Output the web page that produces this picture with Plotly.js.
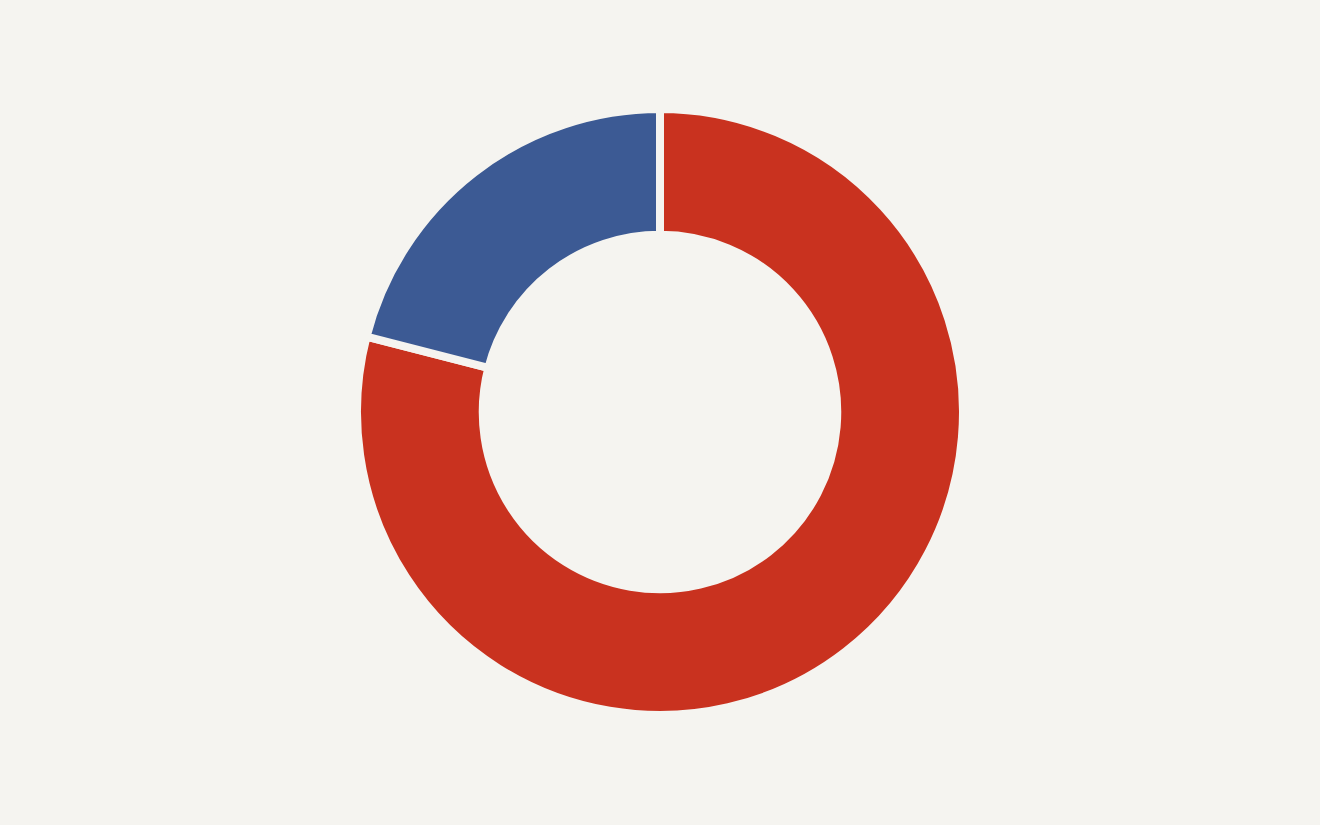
<!DOCTYPE html>
<html>
<head>
<meta charset="utf-8">
<script src="https://cdn.plot.ly/plotly-3.0.1.min.js"></script>
<style>html,body{margin:0;padding:0;background:#f5f4f0;}#chart{width:1320px;height:825px;}</style>
</head>
<body>
<div id="chart"></div>
<script>
const labels = ["A", "B"];
const values = [79, 21];
const colors = ["#c9321f", "#3c5a94"];

Plotly.newPlot("chart", [{
  type: "pie",
  labels: labels,
  values: values,
  hole: 0.585,
  sort: false,
  direction: "clockwise",
  rotation: 0,
  textinfo: "none",
  hoverinfo: "none",
  marker: {colors: colors, line: {color: "#f5f4f0", width: 8}}
}], {
  width: 1320, height: 825,
  paper_bgcolor: "#f5f4f0",
  plot_bgcolor: "#f5f4f0",
  showlegend: false,
  margin: {l: 0, r: 0, t: 109, b: 110}
}, {displayModeBar: false, staticPlot: true});
</script>
</body>
</html>
